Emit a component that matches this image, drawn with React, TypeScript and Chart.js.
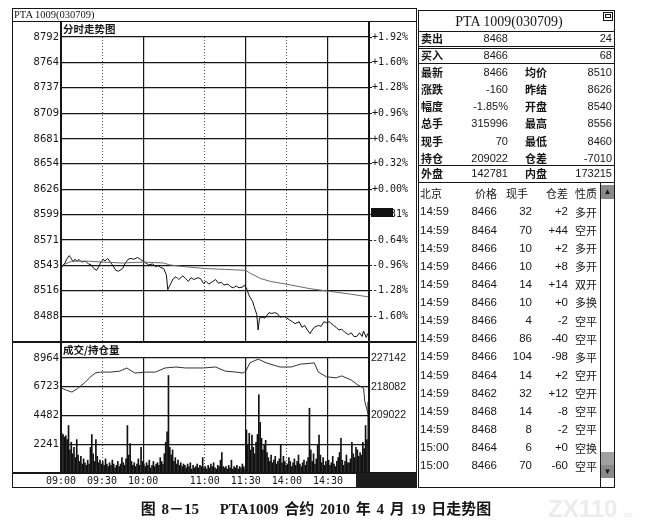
import React, { useEffect, useRef } from "react";
import { Chart, registerables } from "chart.js";

Chart.register(...registerables);

// ---------------- data ----------------
const sessionMinutes = 225; // 09:00-10:15, 10:30-11:30, 13:30-15:00
const timeTickMinutes = [0, 30, 60, 105, 135, 165, 195];
const timeTickLabels = ["09:00", "09:30", "10:00", "11:00", "11:30", "14:00", "14:30"];
const solidGridMinutes = [60, 135, 195];
const dottedGridMinutes = [30, 105, 165];

const priceMin = 8460;
const priceMax = 8792;
const priceTicks = [8488, 8516, 8543, 8571, 8599, 8626, 8654, 8681, 8709, 8737, 8764, 8792];
const pctLabels = ["-1.60%", "-1.28%", "-0.96%", "-0.64%", "-0.31%", "+0.00%", "+0.32%", "+0.64%", "+0.96%", "+1.28%", "+1.60%", "+1.92%"];

// [minute of session, price]
const priceSeries: number[][] = [
  [0, 8540], [1, 8543], [3, 8546], [4, 8550], [6, 8554], [7, 8552], [9, 8547], [10, 8550], [12, 8548], [13, 8550],
  [15, 8547], [18, 8548], [20, 8545], [22, 8544], [24, 8540], [26, 8538], [28, 8543], [29, 8547], [31, 8550], [32, 8548],
  [34, 8551], [36, 8547], [38, 8543], [40, 8538], [42, 8537], [45, 8540], [47, 8546], [49, 8550], [51, 8551], [53, 8550],
  [56, 8552], [58, 8550], [60, 8548], [62, 8546], [64, 8544], [67, 8545], [69, 8542], [71, 8543], [73, 8541], [75, 8540],
  [77, 8533], [78, 8517], [80, 8523], [82, 8529], [84, 8531], [86, 8528], [89, 8532], [91, 8529], [93, 8526], [95, 8530],
  [97, 8528], [100, 8530], [102, 8529], [104, 8524], [106, 8526], [108, 8523], [111, 8526], [113, 8528], [115, 8524], [117, 8525],
  [119, 8522], [122, 8523], [124, 8520], [126, 8519], [128, 8521], [130, 8519], [133, 8520], [134, 8522], [136, 8517], [137, 8512],
  [138, 8509], [140, 8504], [141, 8499], [143, 8490], [144, 8473], [145, 8486], [147, 8487], [149, 8486], [152, 8492], [154, 8491],
  [156, 8492], [158, 8491], [160, 8487], [163, 8488], [165, 8486], [167, 8484], [169, 8482], [171, 8480], [174, 8482], [176, 8476],
  [178, 8478], [180, 8473], [182, 8469], [183, 8472], [185, 8476], [188, 8478], [190, 8477], [192, 8482], [194, 8481], [196, 8482],
  [199, 8478], [201, 8476], [203, 8473], [205, 8474], [207, 8471], [210, 8468], [212, 8470], [214, 8466], [216, 8466], [218, 8470],
  [220, 8466], [221, 8472], [223, 8465], [224, 8469], [225, 8466],
];

const avgSeries: number[][] = [
  [0, 8540], [3, 8545], [8, 8548], [20, 8548], [30, 8547], [45, 8546], [60, 8547], [75, 8546], [79, 8544], [90, 8542],
  [105, 8540], [120, 8539], [135, 8538], [138, 8535], [146, 8529], [153, 8526], [168, 8522], [182, 8518], [197, 8515],
  [212, 8512], [225, 8509],
];

const volMax = 8964;
const volTicks = [2241, 4482, 6723, 8964];
// one bar per minute (225)
const volumes = [
  3100, 3000, 2800, 2900, 2600, 3700, 1800, 2400, 1500, 2000, 1200, 2600, 1400, 900, 1300,
  700, 1100, 800, 600, 1000, 700, 2000, 3000, 1500, 900, 2600, 1300, 800, 1000, 700,
  900, 600, 1100, 700, 500, 800, 600, 1000, 700, 400, 600, 900, 500, 700, 1200,
  800, 600, 1100, 3700, 1400, 2300, 900, 600, 800, 500, 700, 1100, 600, 2000, 900,
  700, 500, 800, 600, 1000, 400, 600, 900, 500, 700, 800, 600, 1200, 900, 700,
  1500, 2400, 3200, 7600, 2000, 1400, 1800, 900, 1200, 700, 1000, 600, 800, 500, 700,
  600, 400, 700, 500, 800, 300, 600, 400, 500, 700, 400, 600, 500, 1200, 400,
  500, 300, 600, 400, 700, 500, 800, 400, 300, 600, 500, 1000, 1600, 500, 400,
  500, 300, 600, 400, 1000, 300, 500, 400, 600, 300, 500, 400, 700, 500, 300,
  3350, 2200, 3100, 1800, 2950, 2000, 1500, 2400, 3000, 6100, 3950, 2700, 1800, 2200, 2550,
  1600, 1200, 900, 1400, 800, 1000, 1300, 700, 900, 1100, 2200, 800, 1300, 900, 600,
  700, 1200, 900, 500, 800, 1100, 600, 900, 1400, 700, 500, 800, 1000, 600, 900,
  1200, 5050, 1800, 900, 1500, 700, 1100, 2200, 2950, 1400, 800, 1200, 600, 900, 700,
  1000, 600, 800, 1300, 700, 500, 900, 1200, 1600, 2700, 1000, 600, 900, 1400, 800,
  800, 1100, 2400, 1500, 1200, 2000, 1800, 1300, 1600, 1400, 2400, 1900, 3700, 2600, 5500,
];

const oiMin = 190902;
const oiMax = 227142;
const oiTicks = [209022, 218082, 227142];
const oiSeries: number[][] = [
  [0, 217700], [4, 217000], [8, 216400], [12, 217500], [18, 219600], [21, 221000], [25, 222400], [29, 222700],
  [36, 222700], [43, 223000], [48, 224000], [54, 222400], [62, 222700], [69, 222700], [76, 224000], [84, 224300],
  [91, 224000], [98, 224000], [104, 224000], [113, 224300], [120, 223000], [128, 222700], [133, 222400], [135, 223000],
  [138, 225600], [144, 226800], [150, 225600], [160, 224300], [168, 224300], [175, 225200], [185, 225600], [188, 222700],
  [194, 221200], [201, 220900], [205, 221500], [212, 220200], [217, 218600], [221, 217700], [222, 213300], [224, 210100],
  [225, 209022],
];

// right panel quote data
const quoteTitle = "PTA 1009(030709)";
const askBidLabels = ["卖出", "买入"];
const askBidPrices = ["8468", "8466"];
const askBidVolumes = ["24", "68"];
const quoteLabelsA = ["最新", "涨跌", "幅度", "总手", "现手", "持仓"];
const quoteValuesA = ["8466", "-160", "-1.85%", "315996", "70", "209022"];
const quoteLabelsB = ["均价", "昨结", "开盘", "最高", "最低", "仓差"];
const quoteValuesB = ["8510", "8626", "8540", "8556", "8460", "-7010"];
const outerInner = ["外盘", "142781", "内盘", "173215"];

const tradeHeader = ["北京", "价格", "现手", "仓差", "性质"];
const tradeTimes = ["14:59", "14:59", "14:59", "14:59", "14:59", "14:59", "14:59", "14:59", "14:59", "14:59", "14:59", "14:59", "14:59", "15:00", "15:00"];
const tradePrices = ["8466", "8464", "8466", "8466", "8464", "8466", "8466", "8466", "8466", "8464", "8462", "8468", "8468", "8464", "8466"];
const tradeVolumes = ["32", "70", "10", "10", "14", "10", "4", "86", "104", "14", "32", "14", "8", "6", "70"];
const tradeOiChange = ["+2", "+44", "+2", "+8", "+14", "+0", "-2", "-40", "-98", "+2", "+12", "-8", "-2", "+0", "-60"];
const tradeTypes = ["多开", "空开", "多开", "多开", "双开", "多换", "空平", "空平", "多平", "空开", "空开", "空平", "空平", "空换", "空平"];

const captionText = "图 8－15　 PTA1009 合约 2010 年 4 月 19 日走势图";

// ---------------- styles ----------------
const INK = "#161616";
const SANS = '"Liberation Sans", Arial, "Noto Sans CJK SC", sans-serif';
const SERIF = '"Liberation Serif", "Noto Sans CJK SC", serif';
const CJK = '"Noto Sans CJK SC", "Liberation Sans", sans-serif';

const fixedWidth = (w: number) => (scale: any) => {
  scale.width = w;
  scale.paddingTop = 0; scale.paddingBottom = 0; scale.paddingLeft = 0; scale.paddingRight = 0;
};
const fixedHeight = (h: number) => (scale: any) => {
  scale.height = h;
  scale.paddingTop = 0; scale.paddingBottom = 0; scale.paddingLeft = 0; scale.paddingRight = 0;
};
const setTicks = (values: number[]) => (scale: any) => {
  scale.ticks = values.map((v) => ({ value: v }));
};
const toXY = (s: number[][]) => s.map((p) => ({ x: p[0], y: p[1] }));

function gridOnlyX(ticks: number[], dashed: boolean, position: string) {
  return {
    type: "linear",
    position,
    min: 0,
    max: sessionMinutes,
    offset: false,
    afterBuildTicks: setTicks(ticks),
    afterFit: fixedHeight(0),
    ticks: { display: false },
    grid: { color: dashed ? "#555" : INK, lineWidth: dashed ? 1 : 1.2, drawTicks: false, offset: false },
    border: { display: false, dash: dashed ? [1, 2] : [] },
  };
}

function priceConfig(): any {
  return {
    type: "line",
    data: {
      datasets: [
        { label: "均价", data: toXY(avgSeries), borderColor: "#6a6a6a", borderWidth: 1, pointRadius: 0, tension: 0, xAxisID: "x", yAxisID: "y" },
        { label: "价格", data: toXY(priceSeries), borderColor: "#111", borderWidth: 1, pointRadius: 0, tension: 0, xAxisID: "x", yAxisID: "y" },
      ],
    },
    options: {
      animation: false,
      responsive: false,
      events: [],
      layout: { padding: { top: 16, bottom: 0, left: 0, right: 0 } },
      plugins: { legend: { display: false }, tooltip: { enabled: false } },
      scales: {
        x: gridOnlyX(solidGridMinutes, false, "bottom"),
        xd: gridOnlyX(dottedGridMinutes, true, "top"),
        y: {
          position: "left", min: priceMin, max: priceMax,
          afterBuildTicks: setTicks(priceTicks), afterFit: fixedWidth(49),
          ticks: { color: INK, font: { family: "DejaVu Sans", size: 10 }, padding: 2, autoSkip: false, callback: (v: any) => String(v) },
          grid: { color: INK, lineWidth: 1.3, drawTicks: false },
          border: { display: false },
        },
        y2: {
          position: "right", min: priceMin, max: priceMax,
          afterBuildTicks: setTicks(priceTicks), afterFit: fixedWidth(48),
          ticks: { color: INK, font: { family: "DejaVu Sans Mono", size: 10 }, padding: 0, autoSkip: false, callback: (_v: any, i: number) => pctLabels[i] },
          grid: { drawOnChartArea: false, drawTicks: true, tickLength: 3, color: INK },
          border: { display: false },
        },
      },
    },
  };
}

function volumeConfig(): any {
  return {
    type: "bar",
    data: {
      datasets: [
        { type: "line", label: "持仓量", data: toXY(oiSeries), borderColor: "#333", borderWidth: 1, pointRadius: 0, tension: 0, xAxisID: "x", yAxisID: "y2", order: 0 },
        { type: "bar", label: "成交量", data: volumes.map((v, i) => ({ x: i + 0.5, y: v })), backgroundColor: "#111", barThickness: 1, xAxisID: "x", yAxisID: "y", order: 1 },
      ],
    },
    options: {
      animation: false,
      responsive: false,
      events: [],
      layout: { padding: { top: 16, bottom: 0, left: 0, right: 0 } },
      plugins: { legend: { display: false }, tooltip: { enabled: false } },
      scales: {
        x: {
          type: "linear", position: "bottom", min: 0, max: sessionMinutes, offset: false,
          afterBuildTicks: setTicks(timeTickMinutes), afterFit: fixedHeight(15),
          ticks: { autoSkip: false, maxRotation: 0, color: INK, font: { family: "DejaVu Sans Mono", size: 10 }, padding: 2, callback: (_v: any, i: number) => timeTickLabels[i] },
          grid: {
            offset: false, drawTicks: false, lineWidth: 1.2,
            color: (ctx: any) => (ctx.tick && solidGridMinutes.includes(ctx.tick.value) ? INK : "rgba(0,0,0,0)"),
          },
          border: { display: false },
        },
        xd: gridOnlyX(dottedGridMinutes, true, "top"),
        y: {
          position: "left", min: 0, max: volMax,
          afterBuildTicks: setTicks(volTicks), afterFit: fixedWidth(49),
          ticks: { color: INK, font: { family: "DejaVu Sans", size: 10 }, padding: 2, autoSkip: false, callback: (v: any) => String(v) },
          grid: { color: INK, lineWidth: 1.3, drawTicks: false },
          border: { display: false },
        },
        y2: {
          position: "right", min: oiMin, max: oiMax,
          afterBuildTicks: setTicks(oiTicks), afterFit: fixedWidth(48),
          ticks: { color: INK, font: { family: "Liberation Sans", size: 10.5 }, padding: 2, autoSkip: false, callback: (v: any) => String(v) },
          grid: { drawOnChartArea: false, drawTicks: false },
          border: { display: false },
        },
      },
    },
  };
}

// ---------------- small layout helpers ----------------
function Txt(p: { x: number; y: number; text: string; align?: "left" | "right" | "center"; size?: number; family?: string; weight?: number; color?: string; spacing?: number }) {
  const size = p.size ?? 11;
  const align = p.align ?? "left";
  const w = 400;
  const left = align === "left" ? p.x : align === "right" ? p.x - w : p.x - w / 2;
  return (
    <div
      style={{
        position: "absolute", left, top: p.y - size * 0.75, width: w, height: size * 1.5,
        lineHeight: `${size * 1.5}px`, fontSize: size, fontFamily: p.family ?? SANS, fontWeight: p.weight ?? 400,
        color: p.color ?? INK, textAlign: align, whiteSpace: "pre", pointerEvents: "none",
        wordSpacing: p.spacing ?? 0,
      }}
    >
      {p.text}
    </div>
  );
}
function HL(p: { x1: number; x2: number; y: number; w?: number; c?: string }) {
  const w = p.w ?? 1;
  return <div style={{ position: "absolute", left: p.x1, top: p.y - w / 2, width: p.x2 - p.x1, height: w, background: p.c ?? INK }} />;
}
function VL(p: { x: number; y1: number; y2: number; w?: number; c?: string }) {
  const w = p.w ?? 1;
  return <div style={{ position: "absolute", left: p.x - w / 2, top: p.y1, width: w, height: p.y2 - p.y1, background: p.c ?? INK }} />;
}
function Box(p: { l: number; t: number; r: number; b: number; bg?: string; border?: string }) {
  return (
    <div style={{ position: "absolute", left: p.l, top: p.t, width: p.r - p.l, height: p.b - p.t, background: p.bg ?? "transparent", border: p.border, boxSizing: "border-box" }} />
  );
}

export default function App() {
  const priceRef = useRef<HTMLCanvasElement>(null);
  const volRef = useRef<HTMLCanvasElement>(null);

  useEffect(() => {
    const c1 = new Chart(priceRef.current as HTMLCanvasElement, priceConfig());
    const c2 = new Chart(volRef.current as HTMLCanvasElement, volumeConfig());
    return () => {
      c1.destroy();
      c2.destroy();
    };
  }, []);

  const rowY = (i: number) => 72 + i * 17.2;
  const tradeY = (i: number) => 212 + i * 18.14;

  return (
    <div style={{ position: "absolute", left: 0, top: 0, width: 660, height: 527, background: "#fff", overflow: "hidden" }}>
      {/* charts */}
      <canvas ref={priceRef} width={405} height={321} style={{ position: "absolute", left: 12, top: 21, width: 405, height: 321 }} />
      <canvas ref={volRef} width={405} height={146} style={{ position: "absolute", left: 12, top: 342, width: 405, height: 146 }} />

      {/* left frame */}
      <Box l={12} t={8} r={417} b={488} border={`1px solid ${INK}`} />
      <HL x1={12} x2={417} y={21} />
      <HL x1={12} x2={417} y={342} w={2} />
      <HL x1={12} x2={417} y={473} w={1.5} />
      <VL x={61} y1={21} y2={473} w={1.3} />
      <VL x={369} y1={21} y2={473} w={1.3} />
      <Box l={356} t={473} r={417} b={488} bg="#1c1c1c" />
      <Box l={371} t={208} r={393} b={217} bg="#111" />

      <Txt x={14} y={14.5} text="PTA 1009(030709)" size={10.5} family={SERIF} />
      <Txt x={63} y={29} text="分时走势图" size={10.5} family={CJK} weight={700} />
      <Txt x={63} y={350} text="成交/持仓量" size={10.5} family={CJK} weight={700} />

      {/* right panel */}
      <Box l={418} t={10} r={615} b={488} border={`1px solid ${INK}`} />
      <Txt x={509} y={21} text={quoteTitle} size={14} family={SERIF} align="center" />
      <Box l={603} t={12} r={613} b={21} border={`1.5px solid ${INK}`} />
      <Box l={605} t={14} r={611} b={18} border={`1px solid ${INK}`} />
      <HL x1={418} x2={615} y={31} />
      <HL x1={418} x2={615} y={46} />
      <HL x1={418} x2={615} y={48} />
      <HL x1={418} x2={615} y={63} />
      <HL x1={418} x2={615} y={165} />
      <HL x1={418} x2={615} y={182} />

      {askBidLabels.map((lab, i) => (
        <React.Fragment key={"ab" + i}>
          <Txt x={421} y={38.5 + i * 16.5} text={lab} size={11} family={CJK} weight={700} />
          <Txt x={508} y={38.5 + i * 16.5} text={askBidPrices[i]} size={11} align="right" />
          <Txt x={612} y={38.5 + i * 16.5} text={askBidVolumes[i]} size={11} align="right" />
        </React.Fragment>
      ))}
      {quoteLabelsA.map((lab, i) => (
        <React.Fragment key={"q" + i}>
          <Txt x={421} y={rowY(i)} text={lab} size={11} family={CJK} weight={700} />
          <Txt x={508} y={rowY(i)} text={quoteValuesA[i]} size={11} align="right" />
          <Txt x={525} y={rowY(i)} text={quoteLabelsB[i]} size={11} family={CJK} weight={700} />
          <Txt x={612} y={rowY(i)} text={quoteValuesB[i]} size={11} align="right" />
        </React.Fragment>
      ))}
      <Txt x={421} y={173.5} text={outerInner[0]} size={11} family={CJK} weight={700} />
      <Txt x={508} y={173.5} text={outerInner[1]} size={11} align="right" />
      <Txt x={525} y={173.5} text={outerInner[2]} size={11} family={CJK} weight={700} />
      <Txt x={612} y={173.5} text={outerInner[3]} size={11} align="right" />

      {/* trades table */}
      <Txt x={420} y={193} text={tradeHeader[0]} size={11} family={CJK} />
      <Txt x={497} y={193} text={tradeHeader[1]} size={11} family={CJK} align="right" />
      <Txt x={528} y={193} text={tradeHeader[2]} size={11} family={CJK} align="right" />
      <Txt x={568} y={193} text={tradeHeader[3]} size={11} family={CJK} align="right" />
      <Txt x={575} y={193} text={tradeHeader[4]} size={11} family={CJK} />
      {tradeTimes.map((t, i) => (
        <React.Fragment key={"t" + i}>
          <Txt x={420} y={tradeY(i)} text={t} size={11.5} />
          <Txt x={497} y={tradeY(i)} text={tradePrices[i]} size={11.5} align="right" />
          <Txt x={532} y={tradeY(i)} text={tradeVolumes[i]} size={11.5} align="right" />
          <Txt x={568} y={tradeY(i)} text={tradeOiChange[i]} size={11.5} align="right" />
          <Txt x={575} y={tradeY(i)} text={tradeTypes[i]} size={11} family={CJK} />
        </React.Fragment>
      ))}
      {/* scrollbar */}
      <VL x={600} y1={182} y2={488} />
      <Box l={601} t={185} r={614} b={199} bg="#8a8a8a" />
      <Txt x={607.5} y={192} text="▲" size={8} align="center" />
      <Box l={601} t={452} r={614} b={465} bg="#a0a0a0" />
      <Box l={601} t={465} r={614} b={478} bg="#8a8a8a" />
      <Txt x={607.5} y={471.5} text="▼" size={8} align="center" />

      {/* caption */}
      <Txt x={316} y={509} text={captionText} size={15} family={SERIF} weight={700} align="center" spacing={2} />
      <Txt x={548} y={509} text="ZX110" size={24} family={SANS} color="#ececec" weight={700} />
      <Txt x={622} y={515} text=".cn" size={8} family={SANS} color="#e0e0e0" />
    </div>
  );
}
